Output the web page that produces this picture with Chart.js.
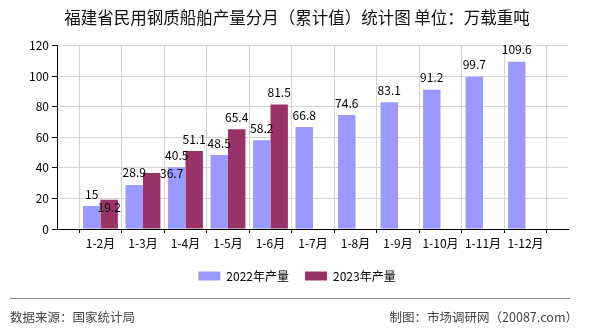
<!DOCTYPE html>
<html>
<head>
<meta charset="utf-8">
<script src="https://cdn.jsdelivr.net/npm/chart.js@4.4.1/dist/chart.umd.min.js"></script>
<style>
    body { margin: 0; background: #fff; }
    #wrap { position: relative; width: 590px; height: 330px; overflow: hidden; font-family: "Noto Sans CJK SC", sans-serif; }
    #chart { position: absolute; left: 0; top: 0; }
    #rule { position: absolute; left: 10px; top: 298px; width: 560px; height: 1px; background: #888; }
    .foot { position: absolute; top: 308px; font-size: 12.5px; line-height: 18px; color: #444; white-space: nowrap; }
    #src { left: 10px; }
    #maker { right: 12px; }
</style>
</head>
<body>
<div id="wrap">
    <canvas id="chart" width="590" height="330"></canvas>
    <div id="rule"></div>
    <div class="foot" id="src">数据来源：国家统计局</div>
    <div class="foot" id="maker">制图：市场调研网（20087.com）</div>
</div>
<script>
const months = ['1-2月', '1-3月', '1-4月', '1-5月', '1-6月', '1-7月', '1-8月', '1-9月', '1-10月', '1-11月', '1-12月'];
const output2022 = [15, 28.9, 40.5, 48.5, 58.2, 66.8, 74.6, 83.1, 91.2, 99.7, 109.6];
const output2023 = [19.2, 36.7, 51.1, 65.4, 81.5];
const yTicks = [0, 20, 40, 60, 80, 100, 120];

const BLUE = '#9999FF';
const WINE = '#993366';
const FONT = '"Noto Sans CJK SC", sans-serif';

// blank slot on each side so the groups sit on the grid lines
function padded(arr) {
    const out = [null];
    for (let i = 0; i < months.length; i++) out.push(i < arr.length ? arr[i] : null);
    out.push(null);
    return out;
}

// a few labels are pushed aside where they would collide
const labelNudge = {
    '1:0': [0, 20],
    '1:1': [20, 12]
};

const valueLabels = {
    id: 'valueLabels',
    afterDatasetsDraw(chart) {
        const ctx = chart.ctx;
        ctx.save();
        ctx.font = '12px ' + FONT;
        ctx.fillStyle = '#000';
        ctx.textAlign = 'center';
        ctx.textBaseline = 'middle';
        chart.data.datasets.forEach((ds, di) => {
            const meta = chart.getDatasetMeta(di);
            meta.data.forEach((bar, i) => {
                const v = ds.data[i];
                if (v === null || v === undefined) return;
                const n = labelNudge[di + ':' + (i - 1)] || [0, 0];
                ctx.fillText(String(v), bar.x + n[0], bar.y - 12 + n[1]);
            });
        });
        ctx.restore();
    }
};

new Chart(document.getElementById('chart'), {
    type: 'bar',
    data: {
        labels: [''].concat(months, ['']),
        datasets: [
            { label: '2022年产量', data: padded(output2022), backgroundColor: BLUE },
            { label: '2023年产量', data: padded(output2023), backgroundColor: WINE }
        ]
    },
    options: {
        responsive: false,
        animation: false,
        layout: { padding: { left: 26, right: 22, top: 0, bottom: 38 } },
        datasets: {
            bar: { categoryPercentage: 0.82, barPercentage: 1 }
        },
        plugins: {
            title: {
                display: true,
                text: '福建省民用钢质船舶产量分月（累计值）统计图 单位：万载重吨',
                color: '#111',
                font: { family: FONT, size: 16.5, weight: 'normal' },
                padding: { top: 8, bottom: 18 }
            },
            legend: {
                position: 'bottom',
                labels: {
                    boxWidth: 22,
                    boxHeight: 9,
                    padding: 16,
                    color: '#000',
                    font: { family: FONT, size: 12 }
                }
            },
            tooltip: { enabled: false }
        },
        scales: {
            x: {
                offset: false,
                grid: { color: '#d4d4d4', tickColor: '#000', tickLength: 4 },
                border: { color: '#000' },
                ticks: { color: '#000', padding: 3, autoSkip: false, maxRotation: 0, font: { family: FONT, size: 12 } },
                afterFit(scale) { scale.height = 25; }
            },
            y: {
                min: 0,
                max: 120,
                afterBuildTicks(scale) { scale.ticks = yTicks.map(v => ({ value: v })); },
                grid: { color: '#d4d4d4', tickColor: '#000', tickLength: 6 },
                border: { color: '#000' },
                ticks: { color: '#000', padding: 3, font: { family: FONT, size: 12 } }
            }
        }
    },
    plugins: [valueLabels]
});
</script>
</body>
</html>
